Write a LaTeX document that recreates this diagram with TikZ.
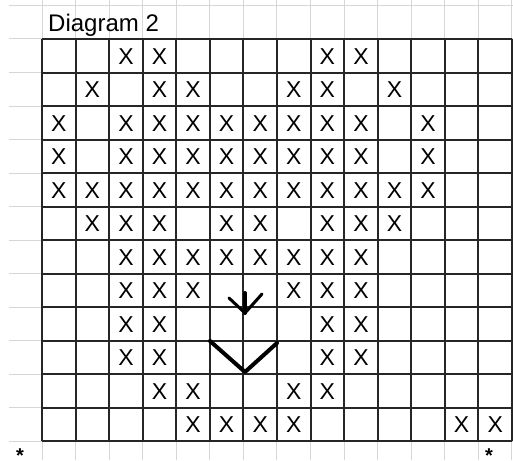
\documentclass[tikz,border=0pt]{standalone}
\usepackage{fontspec}
\setmainfont{Liberation Sans}
\usepackage{tikz}

\begin{document}
\begin{tikzpicture}[
  x=1pt, y=-1pt,
  sheetline/.style={draw=black!16, line width=1pt},
  cellline/.style={draw=black!85, line width=2pt},
  xmark/.style={inner sep=0pt, font=\fontsize{23}{26}\selectfont},
  starmark/.style={inner sep=0pt, font=\fontsize{20}{20}\selectfont\bfseries},
  pen/.style={draw=black, line width=4pt, line cap=round, line join=round},
]
  \useasboundingbox (0,0) rectangle (513,460);

  % Spreadsheet background
  \foreach \k in {0,...,14}
    \draw[sheetline] ({42+\k*33.57}, 0) -- ({42+\k*33.57}, 460);
  \foreach \k in {-1,...,12}
    \draw[sheetline] (9, {39+\k*33.5}) -- (513, {39+\k*33.5});

  % Title
  \node[anchor=base west, inner sep=0pt, font=\fontsize{24}{28}\selectfont]
    (title) at (48, 32) {Diagram 2};

  % Bordered cells
  \foreach \k in {0,...,12}
    \draw[cellline] (42, {39+\k*33.5}) -- (512, {39+\k*33.5});
  \foreach \k in {0,...,14}
    \draw[cellline] ({42+\k*33.57}, 39) -- ({42+\k*33.57}, 441);

  % X marks, row by row
  \foreach \r/\cols in {
      1/{2,3,8,9},
      2/{1,3,4,7,8,10},
      3/{0,2,3,4,5,6,7,8,9,11},
      4/{0,2,3,4,5,6,7,8,9,11},
      5/{0,1,2,3,4,5,6,7,8,9,10,11},
      6/{1,2,3,5,6,8,9,10},
      7/{2,3,4,5,6,7,8,9},
      8/{2,3,4,7,8,9},
      9/{2,3,8,9},
      10/{2,3,8,9},
      11/{3,4,7,8},
      12/{4,5,6,7,12,13}} {
    \foreach \c in \cols
      \node[xmark] (x\r-\c) at ({42+(\c+0.5)*33.57}, {39+(\r-0.5)*33.5+0.5}) {X};
  }

  % Hand drawn arrows
  \draw[pen] (245, 293) -- (245, 313);
  \draw[pen, line width=3pt] (229, 298) -- (245, 313) -- (262, 294);
  \draw[pen] (210, 341) -- (245, 372) -- (277, 343);

  % Corner stars
  \node[starmark] (starl) at (20, 451) {\raisebox{-8.5pt}[6pt][0pt]{*}};
  \node[starmark] (starr) at (489, 451) {\raisebox{-8.5pt}[6pt][0pt]{*}};

\end{tikzpicture}
\end{document}
